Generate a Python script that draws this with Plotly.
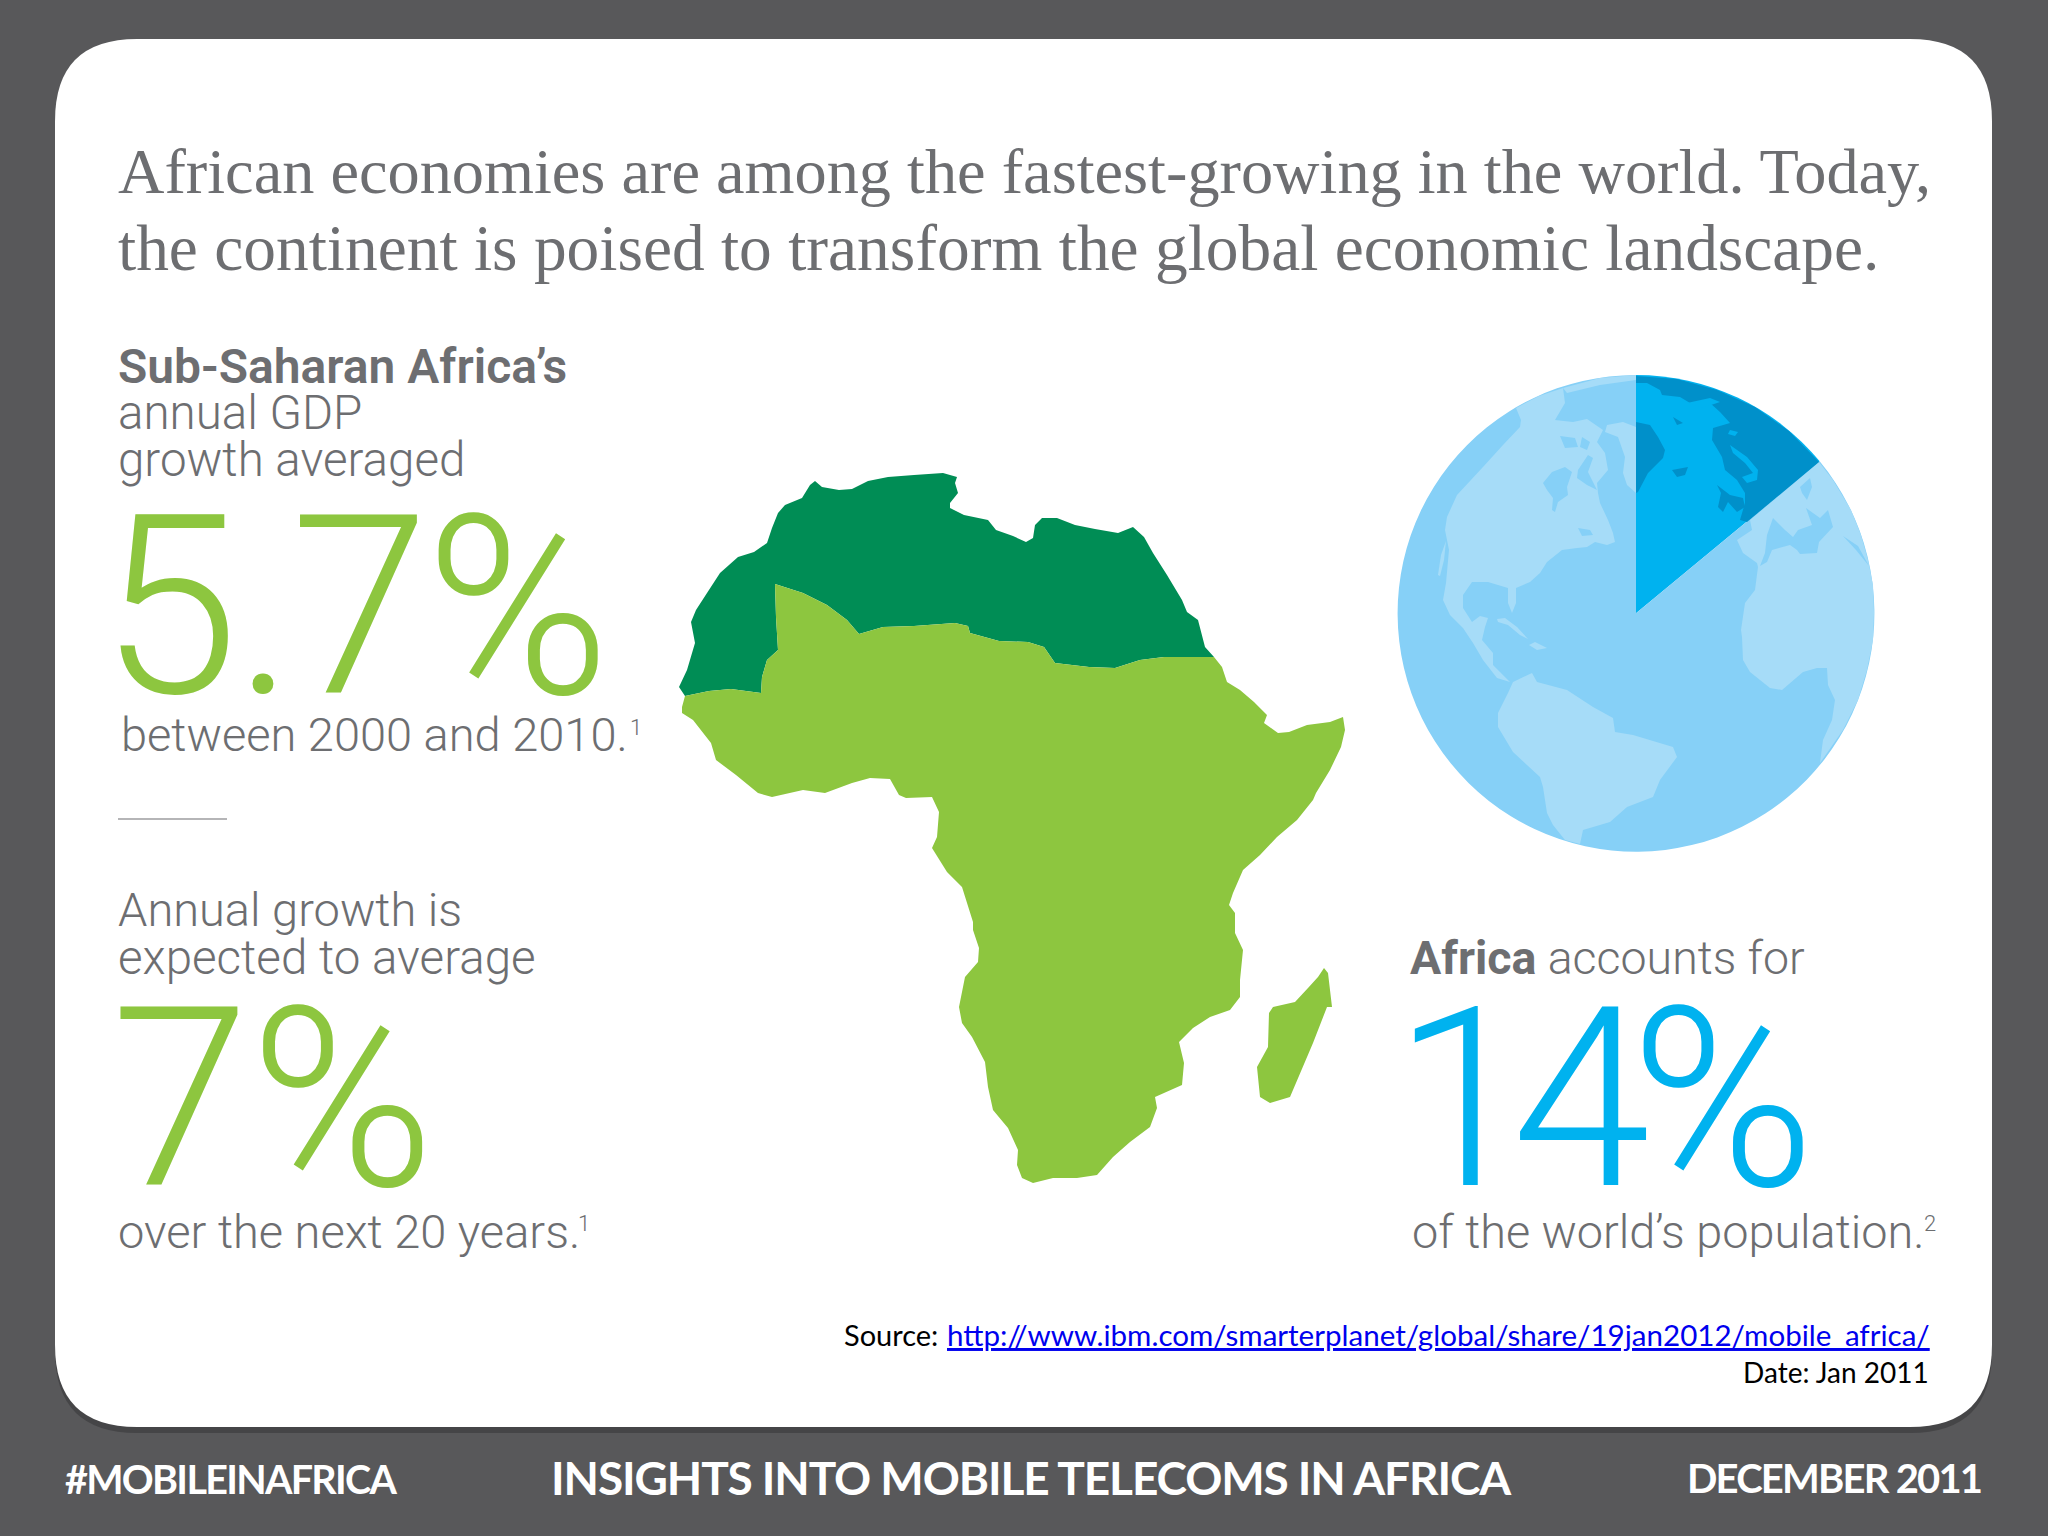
# -*- coding: utf-8 -*-
import plotly.graph_objects as go

north_africa = [(679,687),(687,670),(695,643),(691,622),(696,610),(707,593),(720,573),(738,557),(754,552),(767,543),
    (772,528),(778,513),(785,505),(802,498),(810,485),(815,481),(822,487),(839,490),(852,489),(868,481),(888,477),
    (914,475),(943,473),(957,477),(955,483),(958,493),(950,503),(950,508),(964,515),(988,520),(996,530),(1013,536),
    (1026,542),(1033,538),(1035,525),(1042,518),(1057,518),(1075,525),(1095,529),(1118,533),(1133,527),(1144,537),
    (1153,553),(1167,575),(1182,600),(1187,612),(1198,620),(1205,647),(1214,657),(1164,657),(1140,660),(1115,668),
    (1089,667),(1055,663),(1044,647),(1028,642),(999,641),(970,633),(968,626),(955,623),(914,626),(883,627),(859,634),
    (847,620),(827,605),(803,593),(775,584),(776,617),(778,650),(767,660),(762,677),(761,693),(731,689),(709,691),(685,696)]
sub_saharan = [(682,707),(685,696),(709,691),(731,689),(761,693),(762,677),(767,660),(778,650),(776,617),(775,584),
    (803,593),(827,605),(847,620),(859,634),(883,627),(914,626),(955,623),(968,626),(970,633),(999,641),(1028,642),
    (1044,647),(1055,663),(1089,667),(1115,668),(1140,660),(1164,657),(1214,657),(1222,667),(1227,682),(1240,690),
    (1254,702),(1267,715),(1264,723),(1278,733),(1289,732),(1307,725),(1330,722),(1343,717),(1345,730),(1341,747),
    (1330,770),(1316,793),(1313,800),(1297,820),(1277,837),(1260,855),(1243,870),(1233,893),(1229,905),(1235,913),
    (1235,933),(1243,950),(1240,980),(1240,997),(1230,1010),(1210,1017),(1193,1028),(1179,1042),(1184,1063),(1182,1085),
    (1155,1097),(1157,1108),(1150,1127),(1130,1142),(1113,1157),(1097,1175),(1077,1178),(1053,1178),(1033,1183),
    (1022,1178),(1017,1165),(1018,1150),(1008,1128),(993,1110),(988,1087),(985,1062),(972,1037),(962,1023),(959,1007),
    (965,977),(978,962),(979,948),(973,930),(973,922),(962,887),(947,872),(932,848),(937,837),(939,812),(932,797),
    (906,798),(899,795),(890,779),(870,778),(852,783),(825,793),(803,790),(772,797),(758,793),(736,775),(716,760),
    (711,743),(693,720),(682,713)]
madagascar = [(1324,968),(1328,973),(1332,1007),(1327,1007),(1313,1043),(1290,1097),(1270,1103),(1260,1097),(1257,1067),
    (1268,1047),(1269,1013),(1273,1007),(1295,1002),(1308,988),(1318,977)]

population_share = [14, 86]  # Africa, rest of the world

# globe, land outside the wedge
north_america = [(1510,682),(1500,672),(1493,665),(1493,653),(1482,640),(1485,627),(1488,618),(1480,616),(1472,622),
    (1463,608),(1463,595),(1472,582),(1488,582),(1498,585),(1508,588),(1508,603),(1512,613),(1516,603),(1516,588),
    (1530,582),(1540,573),(1547,562),(1562,550),(1577,548),(1587,547),(1595,542),(1607,545),(1615,542),(1613,533),
    (1608,520),(1600,503),(1598,493),(1597,483),(1608,470),(1605,453),(1597,442),(1603,430),(1587,419),(1573,422),
    (1555,420),(1565,403),(1563,388),(1539,396),(1516,408),(1521,420),(1520,427),(1503,445),(1483,467),(1457,495),
    (1447,517),(1445,530),(1449,550),(1446,583),(1443,600),(1450,615),(1463,628),(1473,643),(1483,660),(1497,678)]
arctic_rim = [(1563,388),(1600,378),(1636,375),(1636,380),(1600,385),(1567,393)]
baja = [(1446,541),(1444,560),(1440,576),(1438,575),(1441,555)]
greenland = [(1607,425),(1623,422),(1636,427),(1636,493),(1627,485),(1623,473),(1625,457),(1618,437),(1605,432)]
cuba = [(1497,619),(1505,618),(1517,627),(1528,639),(1520,635),(1508,625),(1498,622)]
hispaniola = [(1529,645),(1535,642),(1547,648),(1537,650)]
south_america = [(1498,713),(1508,693),(1513,682),(1532,673),(1537,682),(1567,690),(1593,707),(1613,718),(1615,732),
    (1633,735),(1673,747),(1677,757),(1660,780),(1653,797),(1627,807),(1610,822),(1583,830),(1580,844),(1565,840),
    (1553,825),(1547,813),(1543,787),(1540,777),(1513,752),(1498,727)]
africa_eurasia = [(1819,462),(1750,520),(1752,530),(1737,540),(1743,553),(1757,563),(1758,567),(1755,590),(1745,603),
    (1741,630),(1742,637),(1743,660),(1750,672),(1770,688),(1782,690),(1803,672),(1817,668),(1827,668),(1828,685),
    (1835,700),(1832,720),(1823,740),(1820,763),(1843,730),(1858,700),(1867,670),(1873,640),(1874,613),(1873,585),
    (1868,560),(1861,535),(1851,510),(1833,480)]
# water cut back into that land
hudson_bay = [(1543,483),(1552,472),(1565,467),(1572,472),(1567,487),(1568,495),(1558,502),(1555,512),(1552,510),(1553,498),(1547,490)]
hudson_strait = [(1578,470),(1588,455),(1593,458),(1588,472),(1597,490),(1587,485),(1577,478)]
arctic_spot_1 = [(1560,436),(1575,438),(1578,447),(1565,448)]
arctic_spot_2 = [(1582,437),(1590,442),(1587,450),(1580,447)]
st_lawrence = [(1578,528),(1590,530),(1593,535),(1582,536)]
mediterranean = [(1760,566),(1767,562),(1772,550),(1790,545),(1797,550),(1800,554),(1817,553),(1819,542),(1833,527),
    (1828,510),(1820,518),(1806,508),(1812,525),(1798,530),(1793,537),(1785,530),(1773,518),(1767,535),(1765,553)]
baltic = [(1800,487),(1810,478),(1812,487),(1807,500),(1802,493)]
red_sea = [(1843,536),(1858,546),(1869,566),(1856,550)]
# wedge, dark water
wedge_water = [(1636,376),(1636,383),(1647,383),(1660,390),(1662,395),(1680,397),(1690,403),(1710,403),(1720,412),
    (1730,423),(1713,428),(1712,440),(1722,457),(1725,470),(1737,480),(1745,493),(1745,503),(1740,520),(1747,522),
    (1819,462),(1789,431),(1755,407),(1717,390),(1677,379)]
wedge_blob_1 = [(1636,422),(1650,425),(1658,437),(1665,450),(1663,458),(1648,473),(1638,492),(1636,493)]
wedge_blob_2 = [(1673,417),(1683,423),(1677,425)]
wedge_blob_3 = [(1672,470),(1688,467),(1685,475),(1677,477)]
wedge_blob_4 = [(1717,485),(1730,495),(1743,498),(1745,507),(1737,512),(1728,502),(1723,512),(1718,507),(1721,493)]
# wedge, bright land inside the dark water
wedge_land_1 = [(1730,445),(1747,457),(1758,470),(1757,480),(1747,483),(1742,477),(1753,473),(1745,463),(1733,453)]
wedge_land_2 = [(1687,403),(1710,398),(1720,402),(1702,408)]
wedge_land_3 = [(1730,430),(1738,432),(1735,436),(1728,434)]

SANS = "Roboto"
SERIF = "Liberation Serif"
GREY = "#6d6e71"
GREEN = "#8dc63f"
BLUE = "#00b2ef"
OCEAN = "#86d0f7"
LAND = "#a6dcf8"
WEDGE_DARK = "#0090ca"
DARK_BG = "#58585a"

fig = go.Figure()


def outline(points):
    return "M " + " L ".join(f"{x},{y}" for x, y in points) + " Z"


def rounded(x0, y0, x1, y1, r):
    return (f"M {x0+r},{y0} L {x1-r},{y0} Q {x1},{y0} {x1},{y0+r} L {x1},{y1-r} Q {x1},{y1} {x1-r},{y1} "
            f"L {x0+r},{y1} Q {x0},{y1} {x0},{y1-r} L {x0},{y0+r} Q {x0},{y0} {x0+r},{y0} Z")


def land_shape(points, color):
    fig.add_shape(type="path", path=outline(points), xref="x", yref="y", fillcolor=color,
                  line_width=0, layer="above")


def tight(text, px):
    return f'<span style="letter-spacing:{px}px">{text}</span>'


def label(x, baseline, text, size, color=GREY, family=SANS, weight=300, anchor="left"):
    # yanchor middle, pulled up from the baseline by about a third of the size
    fig.add_annotation(x=x, y=baseline - 0.32 * size, xref="x", yref="y", text=text, showarrow=False,
                       xanchor=anchor, yanchor="middle", borderpad=0, borderwidth=0,
                       font=dict(family=family, size=size, color=color, weight=weight))


# card and its shadow
fig.add_shape(type="path", path=rounded(55, 46, 1992, 1433, 82), xref="x", yref="y", fillcolor="#454547",
              line_width=0, layer="below")
fig.add_shape(type="path", path=rounded(55, 39, 1992, 1427, 82), xref="x", yref="y", fillcolor="white",
              line_width=0, layer="below")
fig.add_shape(type="line", x0=118, x1=227, y0=819, y1=819, xref="x", yref="y", line=dict(color="#b5b5b7", width=2),
              layer="below")

# map
for pts, col in [(north_africa, "#008d55"), (sub_saharan, GREEN), (madagascar, GREEN)]:
    fig.add_trace(go.Scatter(x=[p[0] for p in pts], y=[p[1] for p in pts], mode="none", fill="toself",
                             fillcolor=col, hoverinfo="skip", showlegend=False))

# globe: the pie is the 14 % wedge and the rest of the sphere
cx, cy, r = 1636, 613.3, 238.4
fig.add_trace(go.Pie(values=population_share, sort=False, direction="clockwise", rotation=0, textinfo="none",
                     marker=dict(colors=[BLUE, OCEAN], line=dict(width=0)), hoverinfo="skip", showlegend=False,
                     domain=dict(x=[(cx - r) / 2048, (cx + r) / 2048], y=[1 - (cy + r) / 1536, 1 - (cy - r) / 1536])))

for pts in [north_america, arctic_rim, baja, greenland, cuba, hispaniola, south_america, africa_eurasia]:
    land_shape(pts, LAND)
for pts in [hudson_bay, hudson_strait, arctic_spot_1, arctic_spot_2, st_lawrence, mediterranean, baltic, red_sea]:
    land_shape(pts, OCEAN)
for pts in [wedge_water, wedge_blob_1, wedge_blob_2, wedge_blob_3, wedge_blob_4]:
    land_shape(pts, WEDGE_DARK)
for pts in [wedge_land_1, wedge_land_2, wedge_land_3]:
    land_shape(pts, BLUE)

# headline
label(118, 192, "African economies are among the fastest-growing in the world. Today,", 64.3, family=SERIF, weight=400)
label(118, 269, "the continent is poised to transform the global economic landscape.", 65.4, family=SERIF, weight=400)

# left column
label(118, 382, "Sub-Saharan Africa’s", 48, weight=600)
label(118, 428, "annual GDP", 47.5)
label(118, 475, "growth averaged", 47.5)
label(100, 687, tight("5.7%", -4), 250, color=GREEN)
label(121, 750, "between 2000 and 2010.", 47)
label(630, 735, "1", 22)
label(118, 925, "Annual growth is", 47)
label(118, 973, "expected to average", 47.5)
label(111, 1179, "7%", 250, color=GREEN)
label(118, 1247, "over the next 20 years.", 47)
label(578, 1231, "1", 22)

# right column
label(1410, 973, "<b>Africa</b> accounts for", 46.5)
label(1393, 1179, tight("14%", -20), 250, color=BLUE)
label(1412, 1247, "of the world’s population.", 46.8)
label(1924, 1231, "2", 22)

# source
label(844, 1344, "Source:", 29, color="black", family="Lato", weight=400)
fig.add_annotation(x=945, y=1344 - 0.32 * 29.55, xref="x", yref="y", showarrow=False, xanchor="left", yanchor="middle",
                   text="http://www.ibm.com/smarterplanet/global/share/19jan2012/mobile_africa/",
                   font=dict(family="Lato", size=29.55, color="#0000ee", lineposition="under"))
label(1929, 1381, "Date: Jan 2011", 28, color="black", family="Lato", weight=400, anchor="right")

# footer
label(65, 1491, tight("#MOBILEINAFRICA", -1.7), 39.5, color="white", family="Lato", weight=700)
label(551, 1492, tight("INSIGHTS INTO MOBILE TELECOMS IN AFRICA", -1.1), 46, color="white", family="Lato", weight=700)
label(1687, 1491, tight("DECEMBER 2011", -1.8), 40, color="white", family="Lato", weight=700)

fig.update_xaxes(range=[0, 2048], visible=False, fixedrange=True)
fig.update_yaxes(range=[1536, 0], visible=False, fixedrange=True)
fig.update_layout(width=2048, height=1536, margin=dict(l=0, r=0, t=0, b=0), paper_bgcolor=DARK_BG,
                  plot_bgcolor="rgba(0,0,0,0)", showlegend=False)

# the page's default body margin would push the picture 8 px in
fig.write_html("out.html", config=dict(displayModeBar=False),
               post_script="document.body.style.margin='0';document.documentElement.style.overflow='hidden';")
